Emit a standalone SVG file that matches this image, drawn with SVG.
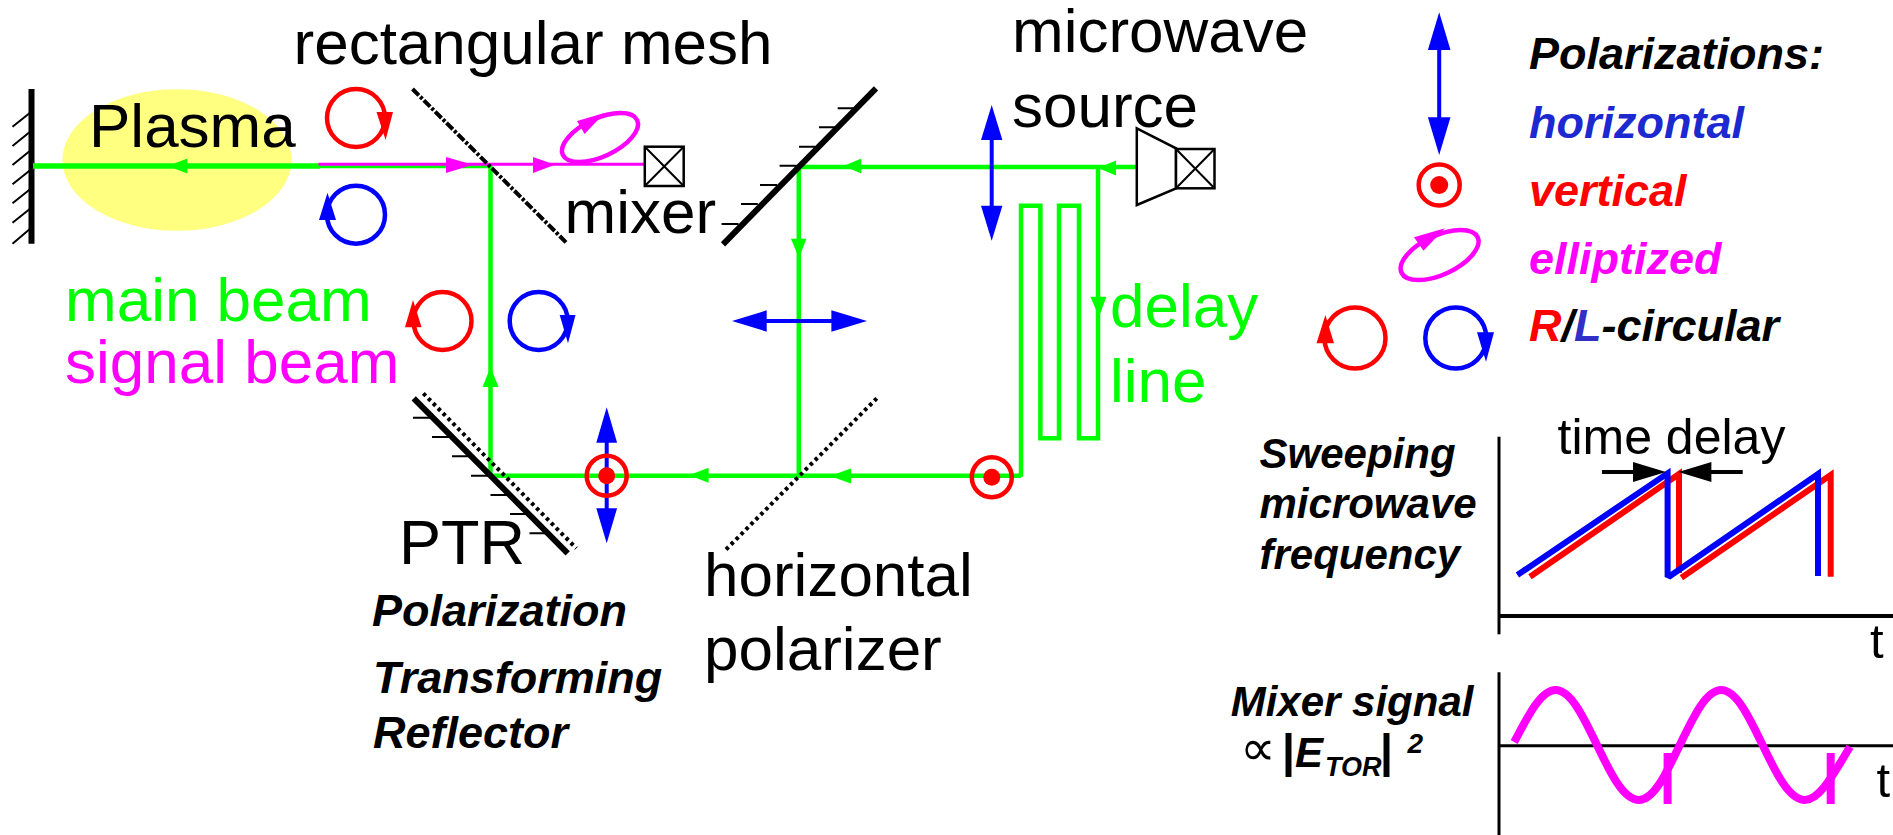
<svg xmlns="http://www.w3.org/2000/svg" width="1893" height="835" viewBox="0 0 1893 835">
<style>
text{font-family:"Liberation Sans",Arial,sans-serif;font-size:62px;fill:#000}
.bi{font-weight:bold;font-style:italic;font-size:45px}
.g{fill:#00ff00}.m{fill:#ff00ff}.r{fill:#ff0000}.b{fill:#0000ff}.hb{fill:#1c28d0}
.gl{fill:none;stroke:#00ff00;stroke-width:4.5}
.blk{fill:none;stroke:#000}
.thin{fill:none;stroke:#000;stroke-width:2}
.box{fill:#fff;stroke:#000;stroke-width:2.5}
.cr{fill:none;stroke:#ff0000;stroke-width:4.5}
.cb{fill:none;stroke:#0000ff;stroke-width:4.5}
.cm{fill:none;stroke:#ff00ff;stroke-width:4.5}
.bl{stroke:#0000ff;stroke-width:4}
</style>
<rect width="1893" height="835" fill="#fff"/>
<g id="plasma"><ellipse cx="177" cy="160" rx="114.600" ry="70.800" fill="#ffff80"/><text x="89" y="146.700">Plasma</text></g>
<g id="wall">
<path class="blk" stroke-width="6" d="M31.500 89V243.700"/>
<path class="thin" d="M31 112L12.500 126.700M31 131L12.500 146M31 150L12.500 165M31 169.500L12.500 184.300M31 188.500L12.500 203.300M31 208L12.500 222.700M31 228L12.500 243.700"/>
</g>
<g id="connectors">
<path class="gl" style="stroke-width:5.500" d="M33 166H320"/>
<path class="gl" style="stroke-width:3.500" d="M318 166.500H490.500"/>
<path class="gl" d="M490.500 166V476M490.500 475.700H1021M1021 476.700V205.700H1040.400V438.300H1059V205.700H1079V438.300H1098V168M798.800 166V476M798.800 167H1136.800"/>
<path d="M318.400 164.300H644" fill="none" stroke="#ff00ff" stroke-width="3"/>
<g class="g">
<path d="M168 166L187.400 158.500V173.500Z"/>
<path d="M843.500 166L861.300 158.500V173.500Z"/>
<path d="M1098 168L1116 160.500V175.500Z"/>
<path d="M689 475.300L708.600 467.800V482.800Z"/>
<path d="M830 476L851 468.500V483.500Z"/>
<path d="M490.500 367L482.500 387H498.500Z"/>
<path d="M799 258.300L791 238.700H806.400Z"/>
<path d="M1099 316.700L1090.400 296.700H1106.400Z"/>
</g>
<g class="m">
<path d="M473 164.700L446 157V173Z"/>
<path d="M555 164.700L533 157V173Z"/>
</g>
</g>
<g id="mesh"><path d="M412.500 89L566 242.300" fill="none" stroke="#000" stroke-width="4" stroke-dasharray="9 2 3 2"/><text x="293.500" y="63.500">rectangular mesh</text></g>
<g id="top-right-circular">
<circle class="cr" cx="356" cy="118" r="29"/><path class="r" d="M376.500 112H393L385.600 140Z"/>
<circle class="cb" cx="356" cy="214.700" r="29"/><path class="b" d="M327.500 192.700L319 220H336Z"/>
</g>
<g id="mid-circular">
<circle class="cr" cx="442.500" cy="321" r="29"/><path class="r" d="M413 300L405 327.300H421.600Z"/>
<circle class="cb" cx="538.700" cy="321" r="29"/><path class="b" d="M559.700 315H575.500L568 343.300Z"/>
</g>
<g id="elliptized-beam"><ellipse class="cm" cx="600" cy="137.500" rx="41" ry="19" transform="rotate(-25 600 137.500)"/><path class="m" d="M604.500 113L577 121L584.600 134Z"/></g>
<g id="mixer"><rect class="box" x="644.800" y="146.700" width="38.900" height="39.300"/><path class="thin" d="M644.800 146.700L683.700 186M683.700 146.700L644.800 186"/><text x="564.500" y="233">mixer</text></g>
<g id="mirror">
<path class="blk" stroke-width="6" d="M876 88.300L723 244.300"/>
<path class="thin" d="M837.700 108.300H854.600M819 127.300H836M799 146.700H815M779.600 165.700H796.600M760 185H777M741 204H757.800M721.600 224H738.600"/>
</g>
<g id="source">
<path class="box" d="M1136.800 128.300L1176 148.300V188.300L1136.800 205Z"/>
<rect class="box" x="1176" y="149" width="38.500" height="39.300"/>
<path class="thin" d="M1176 149L1214.500 188.300M1214.500 149L1176 188.300"/>
<text x="1012" y="51.700">microwave</text><text x="1012" y="126.700">source</text>
</g>
<g id="pol-arrow-source"><path class="bl" d="M991.700 135V210"/><path class="b" d="M991.700 105L1002.400 140H981Z"/><path class="b" d="M991.700 240.700L1002.400 205.700H981Z"/></g>
<g id="pol-arrow-horizontal"><path class="bl" d="M760 321H840"/><path class="b" d="M732 321L766.700 310.300V331.700Z"/><path class="b" d="M867 321L831.400 310.300V331.700Z"/></g>
<g id="delay-label"><text class="g" x="1110" y="326.700">delay</text><text class="g" x="1110" y="401.700">line</text></g>
<g id="ptr">
<path d="M423.300 393.300L576.300 548.300" fill="none" stroke="#000" stroke-width="4" stroke-dasharray="3.500 3.500"/>
<path class="blk" stroke-width="6" d="M413.700 398.300L567.700 553.300"/>
<path class="thin" d="M412.900 417.700H432M432 437H449M452 456.300H469M471 475.700H489.600M490.500 495H507M510 514H526.500M529.500 533.300H546"/>
<text x="399" y="564" style="font-size:63px">PTR</text>
<text class="bi" x="372" y="625.700">Polarization</text>
<text class="bi" x="373" y="692.700">Transforming</text>
<text class="bi" x="373" y="747.700">Reflector</text>
</g>
<g id="polarizer"><path d="M876.800 398.300L723.800 551.700" fill="none" stroke="#000" stroke-width="4" stroke-dasharray="3.500 3.500"/><text x="704" y="595.700">horizontal</text><text x="704" y="670">polarizer</text></g>
<g id="pol-ptr"><path class="bl" d="M606.700 435V515"/><path class="b" d="M606.700 407.300L617.100 442.700H596.300Z"/><path class="b" d="M606.700 543.300L617.100 508.300H596.300Z"/><circle class="cr" cx="606.700" cy="475.700" r="20"/><circle class="r" cx="606.700" cy="475.700" r="8.500"/></g>
<g id="pol-delay"><circle class="cr" cx="991.800" cy="477.300" r="20"/><circle class="r" cx="991.800" cy="477.300" r="8.500"/></g>
<g id="beam-labels"><text class="g" x="65" y="320.700">main beam</text><text class="m" x="65" y="383">signal beam</text></g>
<g id="legend">
<path class="bl" d="M1439.200 45V122"/><path class="b" d="M1439.200 12.300L1450.500 50H1427.900Z"/><path class="b" d="M1439.200 155L1450.500 117.300H1427.900Z"/>
<circle class="cr" cx="1439.200" cy="185" r="20.500"/><circle class="r" cx="1439.200" cy="185" r="9"/>
<ellipse class="cm" cx="1439.600" cy="255" rx="42" ry="19.500" transform="rotate(-25 1439.600 255)"/><path class="m" d="M1445 228.300L1414 237.300L1423.500 250.700Z"/>
<circle class="cr" cx="1355" cy="338" r="30.500"/><path class="r" d="M1325.400 315L1316.500 343.300H1334Z"/>
<circle class="cb" cx="1455.800" cy="338" r="30.500"/><path class="b" d="M1477 332.300H1494L1486 361.700Z"/>
<text class="bi" x="1529" y="69.300">Polarizations:</text>
<text class="bi hb" x="1529" y="137.700">horizontal</text>
<text class="bi r" x="1529" y="206">vertical</text>
<text class="bi m" x="1529" y="273.700">elliptized</text>
<text class="bi" x="1529" y="340.700"><tspan class="r">R</tspan>/<tspan style="fill:#3030c8">L</tspan>-circular</text>
</g>
<g id="sweep-chart">
<path class="blk" stroke-width="3" d="M1499 436.700V634.300"/>
<path class="blk" stroke-width="4" d="M1499 616H1893"/>
<path fill="none" stroke="#ff0000" stroke-width="6" d="M1530 576.700L1679 474V573M1681.400 577.700L1830.700 475V576.700"/>
<path fill="none" stroke="#0000ff" stroke-width="6" d="M1517.400 575L1667.600 473.300V575L1670 576L1818 474V576"/>
<path class="blk" stroke-width="4" d="M1602 472H1640M1742.700 472H1705"/>
<path d="M1666 472L1633 462V482Z"/><path d="M1678.400 472L1711.400 462V482Z"/>
<text x="1557.500" y="454.300" style="font-size:50px">time delay</text>
<text x="1870" y="657.700" style="font-size:49px">t</text>
<text class="bi" style="font-size:42px" x="1259.500" y="467.700">Sweeping</text>
<text class="bi" style="font-size:42px" x="1259.500" y="518.300">microwave</text>
<text class="bi" style="font-size:42px" x="1259.500" y="569.300">frequency</text>
</g>
<g id="mixer-chart">
<path class="blk" stroke-width="3" d="M1499 672.300V835M1499 745.700H1893"/>
<path fill="none" stroke="#ff00ff" stroke-width="8" d="M1514.200 742C1527.700 716.800 1540.600 690 1555.600 690C1570.600 690 1583.500 716.800 1597 745C1610.500 773.200 1623.400 800 1639 800C1654 800 1666.300 773.200 1679.800 745C1693.300 716.800 1706.200 690 1721.200 690C1736.200 690 1749.100 716.800 1762.600 745C1776.100 773.200 1789 800 1805 800C1820 800 1834 773.200 1850 746.700"/>
<path fill="none" stroke="#ff00ff" stroke-width="8" d="M1667.600 753V804M1830.700 753V804"/>
<text x="1876.600" y="796.700" style="font-size:49px">t</text>
<text class="bi" style="font-size:42px" x="1230.700" y="715.700">Mixer signal</text>
<text x="1240" y="765" style="font-size:50px;font-family:'DejaVu Sans',sans-serif">∝</text>
<text x="1282" y="767" style="font-size:46px;font-weight:bold">|</text>
<text class="bi" style="font-size:42px" x="1295" y="766.700">E</text>
<text class="bi" style="font-size:27px" x="1325" y="776">TOR</text>
<text x="1380" y="767" style="font-size:46px;font-weight:bold">|</text>
<text class="bi" style="font-size:28px" x="1407.500" y="753">2</text>
</g>
</svg>
